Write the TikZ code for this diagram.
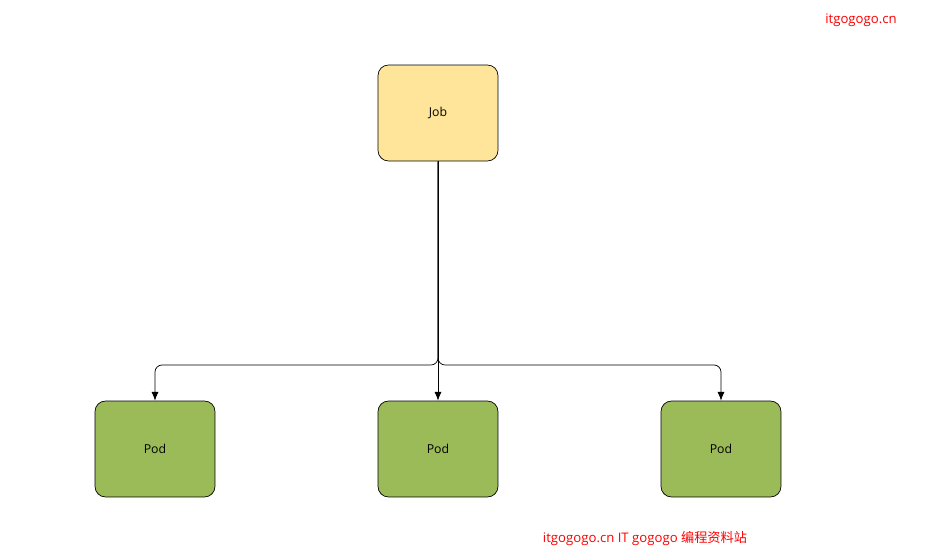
\documentclass[tikz,border=0pt]{standalone}
\usepackage{fontspec}
\setmainfont{Open Sans}
\newfontfamily\cjk{Noto Sans CJK SC}
\usetikzlibrary{arrows.meta,positioning}
\definecolor{jobfill}{HTML}{FFE599}
\definecolor{podfill}{HTML}{9BBB59}
\begin{document}
\begin{tikzpicture}[x=0.02cm,y=-0.02cm,
box/.style={draw,rounded corners=6pt,minimum width=2.4cm,minimum height=1.92cm,font=\fontsize{7}{8}\selectfont,inner sep=0pt},
job/.style={box,fill=jobfill},
pod/.style={box,fill=podfill},
link/.style={-{Latex[length=5pt,width=4pt]},rounded corners=4pt},
watermark/.style={red,font=\fontsize{7.5}{9}\selectfont}]
\useasboundingbox (0,0) rectangle (951,553);
\node[job] (job) at (438,113) {Job};
\node[pod] (pod1) at (155,449) {Pod};
\node[pod] (pod2) at (438,449) {Pod};
\node[pod] (pod3) at (721,449) {Pod};
\coordinate (split) at (438,365);
\draw[link] (job) -- (pod2);
\draw[link] (job) -- (split) -| (pod1);
\draw[link] (job) -- (split) -| (pod3);
\node[watermark] (site) at (861,20) {itgogogo.cn};
\node[watermark] (foot) at (645,539) {itgogogo.cn IT gogogo {\cjk 编程资料站}};
\end{tikzpicture}
\end{document}
